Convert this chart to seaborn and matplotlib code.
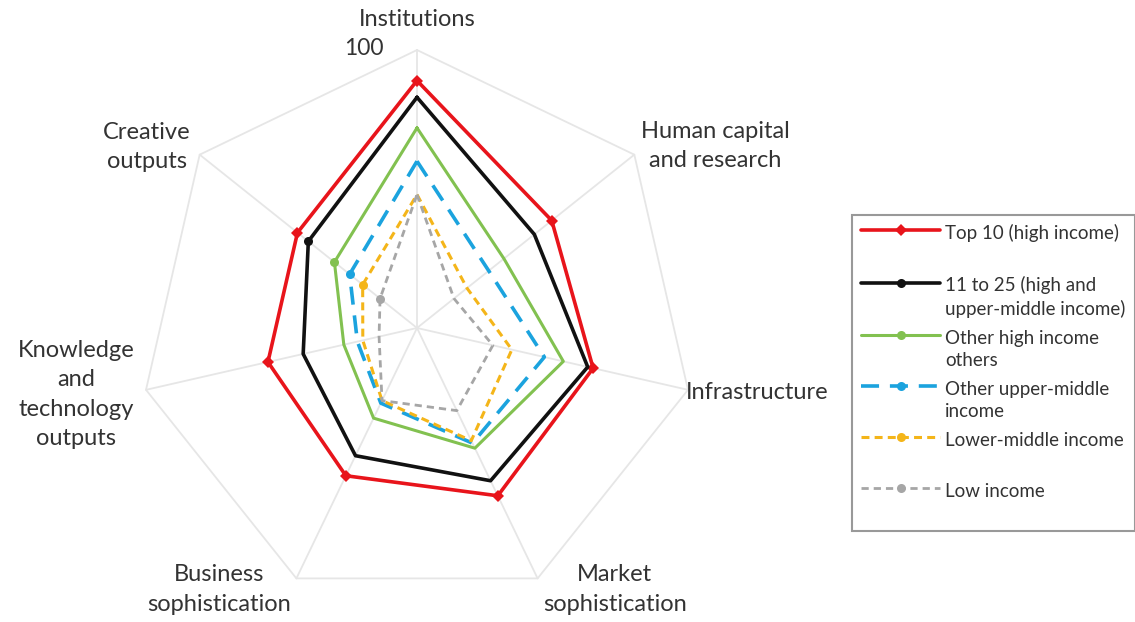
import numpy as np
import matplotlib
matplotlib.use("Agg")
import matplotlib.pyplot as plt
from matplotlib.lines import Line2D
from matplotlib.legend_handler import HandlerLine2D
import seaborn as sns

# Data
pillars = ['Institutions', 'Human capital\nand research', 'Infrastructure',
           'Market\nsophistication', 'Business\nsophistication',
           'Knowledge\nand\ntechnology\noutputs', 'Creative\noutputs']
top10 = [89, 62, 65, 67, 59, 55, 55]
rank11_25 = [83, 54, 63, 61, 51, 42, 50]
other_high = [72, 40, 54, 48, 36, 27, 38]
upper_middle = [60, 33, 47, 46, 30, 22, 31]
lower_middle = [48, 23, 35, 45, 29, 20, 25]
low = [48, 17, 28, 33, 29, 14, 17]

group_names = ['Top 10 (high income)', '11 to 25 (high and\nupper-middle income)',
               'Other high income\nothers', 'Other upper-middle\nincome',
               'Lower-middle income', 'Low income']

sns.set_style('white')
plt.rcParams['font.family'] = ['Lato', 'DejaVu Sans']

fig = plt.figure(figsize=(11.35, 6.22), dpi=100)
ax = fig.add_axes([0.1225, 0.0257, 0.4898, 0.894], projection='polar')
ax.set_theta_zero_location('N')
ax.set_theta_direction(-1)
ax.set_ylim(0, 100)
ax.grid(False)
ax.spines['polar'].set_visible(False)
ax.set_xticks([])
ax.set_yticks([])

n = len(pillars)
theta = np.linspace(0, 2 * np.pi, n, endpoint=False)
theta_c = np.append(theta, theta[0] + 2 * np.pi)

# grid: outer heptagon and spokes
grid_col = '#e6e6e6'
ax.plot(theta_c, [100] * (n + 1), color=grid_col, lw=1.3, clip_on=False, zorder=1)
for t in theta:
    ax.plot([t, t], [0, 100], color=grid_col, lw=1.3, clip_on=False, zorder=1)

styles = [
    (top10, '#E8141B', 2.6, '-', 'D', list(range(n))),
    (rank11_25, '#111111', 2.6, '-', 'o', [6]),
    (other_high, '#82C150', 2.2, '-', 'o', [6]),
    (upper_middle, '#1BA3DE', 2.6, (0, (5, 3)), 'o', [6]),
    (lower_middle, '#F4B519', 2.2, (0, (2.6, 1.7)), 'o', [6]),
    (low, '#A6A6A6', 2.0, (0, (2.6, 1.8)), 'o', [6]),
]

for vals, col, lw, ls, mk, mev in styles:
    v = np.append(vals, vals[0])
    sns.lineplot(x=theta_c, y=v, color=col, linewidth=lw, linestyle=ls,
                 marker=mk, markevery=mev, markersize=6.5, markeredgewidth=0,
                 sort=False, ax=ax, zorder=3)
ax.set_xlabel('')
ax.set_ylabel('')

# pillar labels
label_pos = [(0, 111), (58.6, 125.6), (100.7, 124.5), (142.9, 118),
             (217.1, 118), (259, 125), (303.8, 117)]
for name, (deg, r) in zip(pillars, label_pos):
    ax.text(np.deg2rad(deg), r, name, ha='center', va='center',
            fontsize=17, color='#333333', linespacing=1.5)
ax.annotate('100', xy=(0, 100), xytext=(-24, 1), textcoords='offset points',
            ha='right', va='center', fontsize=16.5, color='#333333')


class FirstLineHandler(HandlerLine2D):
    def __init__(self, fracs, dy, **kw):
        super().__init__(**kw)
        self.fracs = fracs
        self.dy = dy

    def get_xdata(self, legend, xdescent, ydescent, width, height, fontsize):
        xdata = np.array([-xdescent, -xdescent + width])
        xm = -xdescent + width * np.array(self.fracs)
        return xdata, xm

    def create_artists(self, legend, orig_handle, xdescent, ydescent,
                       width, height, fontsize, trans):
        arts = super().create_artists(legend, orig_handle, xdescent, ydescent,
                                      width, height, fontsize, trans)
        for a in arts:
            a.set_ydata(np.asarray(a.get_ydata()) + self.dy * fontsize)
        return arts


handles = []
labels = []
hmap = {}
for (vals, col, lw, ls, mk, mev), name in zip(styles, group_names):
    h = Line2D([], [], color=col, lw=lw, linestyle=ls, marker=mk,
               markersize=6.5, markeredgewidth=0)
    lab = name if '\n' in name else name + '\n '
    handles.append(h)
    labels.append(lab)
    fr = [0.08, 0.58] if col == '#E8141B' else [0.08]
    hmap[h] = FirstLineHandler(fr, 0.76)

leg = fig.legend(handles, labels, loc='upper left',
                 bbox_to_anchor=(852 / 1135, 1 - 215 / 622),
                 handler_map=hmap, fontsize=13.5, frameon=True, fancybox=False,
                 edgecolor='#808080', handlelength=4.2, handletextpad=0.25,
                 borderpad=0.5, labelspacing=0.66, borderaxespad=0)
leg.get_frame().set_linewidth(1.5)
for t in leg.get_texts():
    t.set_color('#333333')
    t.set_linespacing(1.33)

fig.savefig('out.png', dpi=100)
